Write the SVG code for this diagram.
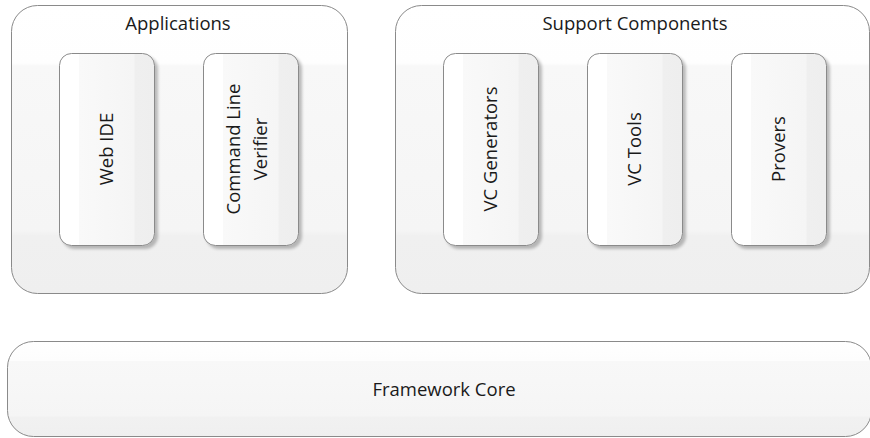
<svg xmlns="http://www.w3.org/2000/svg" width="870" height="438" viewBox="0 0 870 438">
  <defs>
    <linearGradient id="groupFill" x1="0" y1="0" x2="0" y2="1">
      <stop offset="0" stop-color="#ffffff"/>
      <stop offset="0.2" stop-color="#fefefe"/>
      <stop offset="0.21" stop-color="#f8f8f8"/>
      <stop offset="0.78" stop-color="#f5f5f5"/>
      <stop offset="0.8" stop-color="#f0f0f0"/>
      <stop offset="1" stop-color="#efefef"/>
    </linearGradient>
    <linearGradient id="coreFill" x1="0" y1="0" x2="0" y2="1">
      <stop offset="0" stop-color="#ffffff"/>
      <stop offset="0.2" stop-color="#fdfdfd"/>
      <stop offset="0.21" stop-color="#f8f8f8"/>
      <stop offset="0.78" stop-color="#f5f5f5"/>
      <stop offset="0.8" stop-color="#f1f1f1"/>
      <stop offset="1" stop-color="#efefef"/>
    </linearGradient>
    <linearGradient id="cardFill" x1="0" y1="0" x2="1" y2="0">
      <stop offset="0" stop-color="#ffffff"/>
      <stop offset="0.2" stop-color="#ffffff"/>
      <stop offset="0.21" stop-color="#f9f9f9"/>
      <stop offset="0.78" stop-color="#f5f5f5"/>
      <stop offset="0.8" stop-color="#efefef"/>
      <stop offset="1" stop-color="#eeeeee"/>
    </linearGradient>
    <filter id="shadow" x="-20%" y="-20%" width="140%" height="140%">
      <feGaussianBlur in="SourceAlpha" stdDeviation="1.5"/>
      <feOffset dx="3" dy="3" result="off"/>
      <feComponentTransfer><feFuncA type="linear" slope="0.25"/></feComponentTransfer>
      <feMerge><feMergeNode/><feMergeNode in="SourceGraphic"/></feMerge>
    </filter>
  </defs>
  <style>
    .group { fill: url(#groupFill); stroke: #8a8a8a; stroke-width: 1; }
    .core { fill: url(#coreFill); stroke: #8a8a8a; stroke-width: 1; }
    .card { fill: url(#cardFill); stroke: #8a8a8a; stroke-width: 1; filter: url(#shadow); }
    text { font-family: "Open Sans", "Noto Sans", "Liberation Sans", sans-serif; font-size: 18.5px; fill: #1a1a1a; text-anchor: middle; }
  </style>

  <rect width="870" height="438" fill="#ffffff"/>

  <g id="applications">
    <rect class="group" x="11.5" y="5.5" width="336" height="288" rx="26" ry="26"/>
    <text x="178" y="30">Applications</text>
  </g>

  <g id="support-components">
    <rect class="group" x="395.5" y="5.5" width="474" height="288" rx="26" ry="26"/>
    <text x="635" y="30">Support Components</text>
  </g>

  <g id="web-ide">
    <rect class="card" x="59.5" y="53.5" width="95" height="192" rx="12" ry="12"/>
    <text transform="translate(113 149) rotate(-90)">Web IDE</text>
  </g>

  <g id="command-line-verifier">
    <rect class="card" x="203.5" y="53.5" width="95" height="192" rx="12" ry="12"/>
    <text transform="rotate(-90 250 149)"><tspan x="250" y="139">Command Line</tspan><tspan x="250" y="166">Verifier</tspan></text>
  </g>

  <g id="vc-generators">
    <rect class="card" x="443.5" y="53.5" width="95" height="192" rx="12" ry="12"/>
    <text transform="translate(497 149) rotate(-90)">VC Generators</text>
  </g>

  <g id="vc-tools">
    <rect class="card" x="587.5" y="53.5" width="95" height="192" rx="12" ry="12"/>
    <text transform="translate(641 149) rotate(-90)">VC Tools</text>
  </g>

  <g id="provers">
    <rect class="card" x="731.5" y="53.5" width="95" height="192" rx="12" ry="12"/>
    <text transform="translate(785 149) rotate(-90)">Provers</text>
  </g>

  <g id="framework-core">
    <rect class="core" x="7.5" y="341.5" width="864" height="95" rx="26" ry="26"/>
    <text x="444" y="396">Framework Core</text>
  </g>

  <g id="connectors"/>
</svg>
